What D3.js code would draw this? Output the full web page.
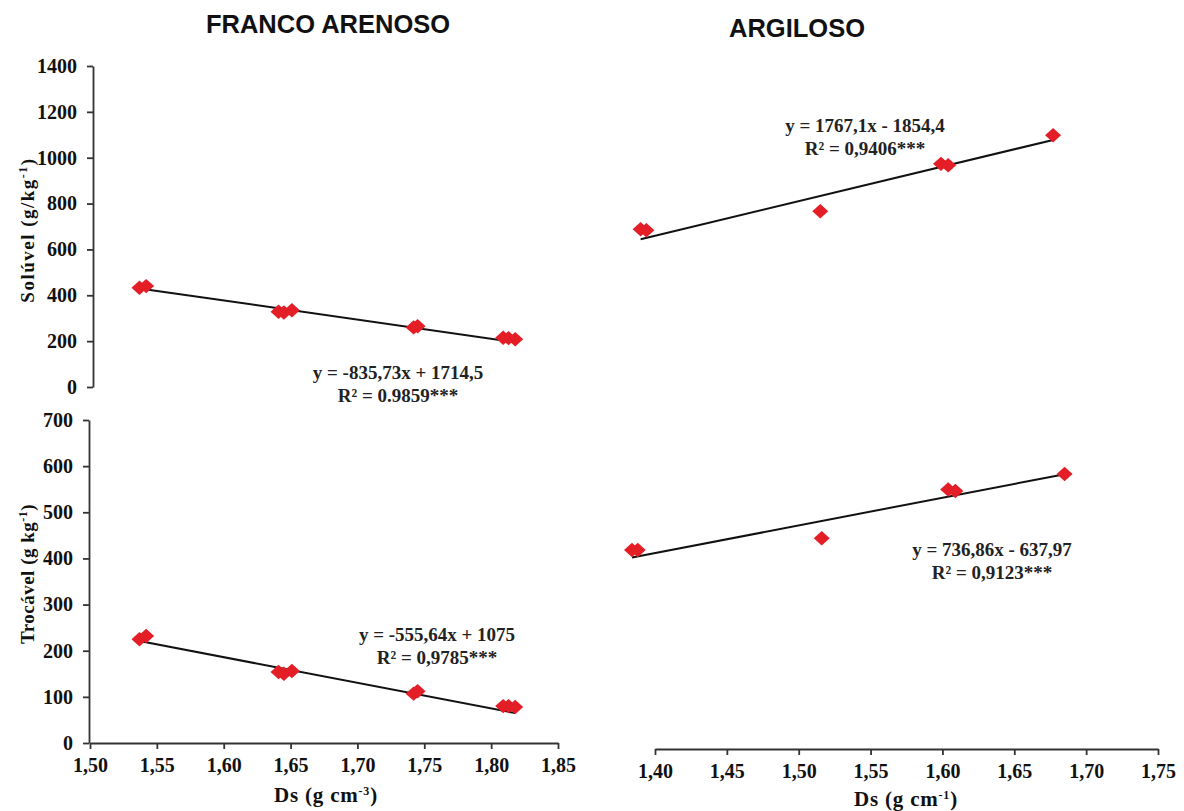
<!DOCTYPE html>
<html>
<head>
<meta charset="utf-8">
<script src="https://cdn.jsdelivr.net/npm/d3@7"></script>
<style>
	body { margin: 0; background: #fff; }
	svg { display: block; }
</style>
</head>
<body>
<div id="chart"></div>
<script>
const w = 1184;
const h = 811;

// FRANCO ARENOSO
const dsFranco = [1.537, 1.542, 1.641, 1.645, 1.651, 1.742, 1.745, 1.809, 1.813, 1.818];
const solFranco = [433, 440, 328, 325, 335, 260, 265, 215, 213, 208];
const trocFranco = [225, 232, 154, 150, 156, 107, 112, 80, 80, 78];

// ARGILOSO
const dsArgSol = [1.39, 1.394, 1.515, 1.599, 1.604, 1.677];
const solArg = [653, 648, 745, 987, 980, 1133];
const dsArgTroc = [1.384, 1.388, 1.516, 1.604, 1.609, 1.685];
const trocArg = [402, 402, 433, 563, 559, 604];

// fitted lines [slope, intercept]
const fitSolFranco = [-835.73, 1714.5];
const fitTrocFranco = [-555.64, 1075];
const fitSolArg = [1767.1, -1854.4];
const fitTrocArg = [736.86, -637.97];

const eqSolFranco = ['y = -835,73x + 1714,5', 'R² = 0.9859***'];
const eqTrocFranco = ['y = -555,64x + 1075', 'R² = 0,9785***'];
const eqSolArg = ['y = 1767,1x - 1854,4', 'R² = 0,9406***'];
const eqTrocArg = ['y = 736,86x - 637,97', 'R² = 0,9123***'];

const xTicksFranco = [1.5, 1.55, 1.6, 1.65, 1.7, 1.75, 1.8, 1.85];
const xTicksArg = [1.4, 1.45, 1.5, 1.55, 1.6, 1.65, 1.7, 1.75];
const solTicks = [0, 200, 400, 600, 800, 1000, 1200, 1400];
const trocTicks = [0, 100, 200, 300, 400, 500, 600, 700];

const serif = '"Liberation Serif", "Times New Roman", serif';
const sans = '"Liberation Sans", Arial, sans-serif';

const svg = d3
	.select('#chart')
	.append('svg')
	.attr('width', w)
	.attr('height', h)
	.style('background-color', '#fff');

const xFranco = d3.scaleLinear().domain([1.5, 1.85]).range([90, 558]);
const xArg = d3.scaleLinear().domain([1.4, 1.75]).range([655, 1158]);

const ySolFranco = d3.scaleLinear().domain([0, 1400]).range([387, 66]);
const yTrocFranco = d3.scaleLinear().domain([0, 700]).range([743, 420]);
const ySolArg = d3.scaleLinear().domain([0, 1400]).range([357, 83]);
const yTrocArg = d3.scaleLinear().domain([0, 700]).range([701, 438]);

const fmtX = d => d.toFixed(2).replace('.', ',');
const fmtY = d => String(d);

const diamond = {
	draw(ctx, size) {
		const a = Math.sqrt(size) / 2;
		ctx.moveTo(0, -a * 0.9);
		ctx.lineTo(a, 0);
		ctx.lineTo(0, a * 0.9);
		ctx.lineTo(-a, 0);
		ctx.closePath();
	},
};

const panels = [
	{xs: dsFranco, ys: solFranco, x: xFranco, y: ySolFranco, fit: fitSolFranco, eq: eqSolFranco, lx: 398, ly: 379},
	{xs: dsFranco, ys: trocFranco, x: xFranco, y: yTrocFranco, fit: fitTrocFranco, eq: eqTrocFranco, lx: 437, ly: 641},
	{xs: dsArgSol, ys: solArg, x: xArg, y: ySolArg, fit: fitSolArg, eq: eqSolArg, lx: 865, ly: 132},
	{xs: dsArgTroc, ys: trocArg, x: xArg, y: yTrocArg, fit: fitTrocArg, eq: eqTrocArg, lx: 992, ly: 556},
];

// axes
function styleAxis(g) {
	g.selectAll('path, line').attr('stroke', '#333').attr('stroke-width', 1.8);
	g.selectAll('text')
		.attr('fill', '#111')
		.style('font-family', serif)
		.style('font-weight', 'bold')
		.style('font-size', '20px');
}

svg
	.append('g')
	.attr('transform', 'translate(93,0)')
	.call(d3.axisLeft(ySolFranco).tickValues(solTicks).tickFormat(fmtY).tickSize(6).tickSizeOuter(0).tickPadding(10))
	.call(styleAxis);

svg
	.append('g')
	.attr('transform', 'translate(89,0)')
	.call(d3.axisLeft(yTrocFranco).tickValues(trocTicks).tickFormat(fmtY).tickSize(6).tickSizeOuter(0).tickPadding(10))
	.call(styleAxis);

svg
	.append('g')
	.attr('transform', 'translate(0,743)')
	.call(d3.axisBottom(xFranco).tickValues(xTicksFranco).tickFormat(fmtX).tickSize(6).tickSizeOuter(0).tickPadding(9))
	.call(styleAxis);

svg
	.append('g')
	.attr('transform', 'translate(0,749)')
	.call(d3.axisBottom(xArg).tickValues(xTicksArg).tickFormat(fmtX).tickSize(6).tickSizeOuter(0).tickPadding(9))
	.call(styleAxis);

// regression lines, points, equations
panels.forEach(p => {
	const ext = d3.extent(p.xs);
	const line = d3
		.line()
		.x(d => p.x(d))
		.y(d => p.y(p.fit[0] * d + p.fit[1]));

	svg
		.append('path')
		.datum(ext)
		.attr('d', line)
		.attr('fill', 'none')
		.attr('stroke', '#111')
		.attr('stroke-width', 2);

	svg
		.append('g')
		.selectAll('path')
		.data(p.xs.map((d, i) => [d, p.ys[i]]))
		.enter()
		.append('path')
		.attr('transform', d => `translate(${p.x(d[0])},${p.y(d[1])})`)
		.attr('d', d3.symbol().type(diamond).size(256))
		.attr('fill', '#e41e26');

	svg
		.append('g')
		.selectAll('text')
		.data(p.eq)
		.enter()
		.append('text')
		.attr('x', p.lx)
		.attr('y', (d, i) => p.ly + i * 23)
		.style('text-anchor', 'middle')
		.style('font-family', serif)
		.style('font-weight', 'bold')
		.style('font-size', '19px')
		.attr('fill', '#222')
		.text(d => d);
});

// titles
svg
	.append('text')
	.attr('x', 328)
	.attr('y', 33)
	.style('text-anchor', 'middle')
	.style('font-family', sans)
	.style('font-weight', 'bold')
	.style('font-size', '25.5px')
	.attr('fill', '#111')
	.text('FRANCO ARENOSO');

svg
	.append('text')
	.attr('x', 797)
	.attr('y', 37)
	.style('text-anchor', 'middle')
	.style('font-family', sans)
	.style('font-weight', 'bold')
	.style('font-size', '25.5px')
	.attr('fill', '#111')
	.text('ARGILOSO');

// axis titles with superscripts
function labelText(g, parts) {
	parts.forEach(([t, sup]) => {
		const s = g.append('tspan').text(t);
		if (sup) s.attr('baseline-shift', 'super').style('font-size', '12px');
	});
}

const yTitle1 = svg
	.append('text')
	.attr('transform', 'translate(34,230) rotate(-90)')
	.style('text-anchor', 'middle')
	.style('font-family', serif)
	.style('font-weight', 'bold')
	.style('font-size', '19px')
	.style('letter-spacing', '1.5px')
	.attr('fill', '#111');
labelText(yTitle1, [['Solúvel (g/kg'], ['-1', true], [')']]);

const yTitle2 = svg
	.append('text')
	.attr('transform', 'translate(34,574) rotate(-90)')
	.style('text-anchor', 'middle')
	.style('font-family', serif)
	.style('font-weight', 'bold')
	.style('font-size', '19px')
	.style('letter-spacing', '0.5px')
	.attr('fill', '#111');
labelText(yTitle2, [['Trocável (g kg'], ['-1', true], [')']]);

const xTitle1 = svg
	.append('text')
	.attr('x', 326)
	.attr('y', 802)
	.style('text-anchor', 'middle')
	.style('font-family', serif)
	.style('font-weight', 'bold')
	.style('font-size', '21px')
	.style('letter-spacing', '0.8px')
	.attr('fill', '#111');
labelText(xTitle1, [['Ds (g cm'], ['-3', true], [')']]);

const xTitle2 = svg
	.append('text')
	.attr('x', 906)
	.attr('y', 806)
	.style('text-anchor', 'middle')
	.style('font-family', serif)
	.style('font-weight', 'bold')
	.style('font-size', '21px')
	.style('letter-spacing', '0.8px')
	.attr('fill', '#111');
labelText(xTitle2, [['Ds (g cm'], ['-1', true], [')']]);
</script>
</body>
</html>
